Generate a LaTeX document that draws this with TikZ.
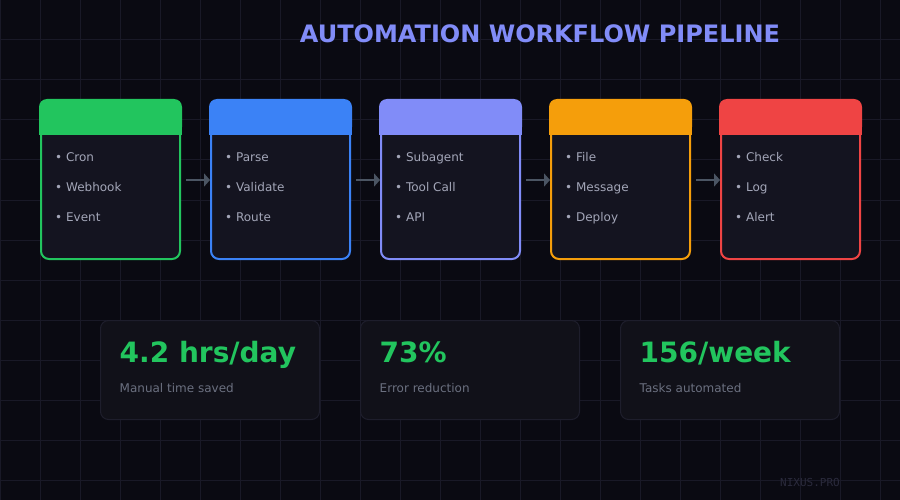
\documentclass[tikz,border=0pt]{standalone}
\usepackage{fontspec}
\setmainfont{DejaVu Sans}
\setmonofont{DejaVu Sans Mono}
\usetikzlibrary{arrows.meta,calc}
\definecolor{bg}{HTML}{0A0A12}
\definecolor{gridc}{HTML}{191927}
\definecolor{cardfill}{HTML}{141420}
\definecolor{statfill}{HTML}{111119}
\definecolor{statline}{HTML}{1E1E2C}
\definecolor{itemc}{HTML}{A3A6B8}
\definecolor{subc}{HTML}{6B7080}
\definecolor{arrowc}{HTML}{4B5563}
\definecolor{titlec}{HTML}{818CF8}
\definecolor{cgreen}{HTML}{22C55E}
\definecolor{cblue}{HTML}{3B82F6}
\definecolor{cindigo}{HTML}{818CF8}
\definecolor{camber}{HTML}{F59E0B}
\definecolor{cred}{HTML}{EF4444}
\definecolor{wmark}{HTML}{2A2A3C}
\tikzset{
  gridline/.style={draw=gridc, line width=1pt},
  cardbox/.style={draw=#1, line width=2pt, fill=cardfill, rounded corners=8pt,
    minimum width=139pt, minimum height=158pt, inner sep=0pt},
  itemtext/.style={anchor=base west, text=itemc, font=\fontsize{12}{14}\selectfont, inner sep=0pt},
  flowarrow/.style={draw=arrowc, line width=2pt, -{Triangle[length=6pt,width=13pt]}, shorten <=5pt},
  statbox/.style={draw=statline, line width=1pt, fill=statfill, rounded corners=8pt,
    minimum width=219pt, minimum height=99pt, inner sep=0pt},
  bigtext/.style={anchor=base west, text=cgreen, font=\bfseries\fontsize{28}{32}\selectfont, inner sep=0pt},
  subtext/.style={anchor=base west, text=subc, font=\fontsize{12}{14}\selectfont, inner sep=0pt},
}
\begin{document}
\begin{tikzpicture}[x=1pt,y=-1pt]
\useasboundingbox (0,0) rectangle (900,500);
\fill[bg] (0,0) rectangle (900,500);
\foreach \gx in {0,40,...,880} { \draw[gridline] (\gx,0) -- (\gx,500); }
\foreach \gy in {0,40,...,480} { \draw[gridline] (0,\gy) -- (900,\gy); }

\node[anchor=base, text=titlec, font=\bfseries\fontsize{24}{28}\selectfont, inner sep=0pt] (title) at (540,43) {AUTOMATION WORKFLOW PIPELINE};

\foreach \i/\x/\col/\a/\b/\c in {1/110.5/cgreen/Cron/Webhook/Event,
                                   2/280.5/cblue/Parse/Validate/Route,
                                   3/450.5/cindigo/Subagent/Tool Call/API,
                                   4/620.5/camber/File/Message/Deploy,
                                   5/790.5/cred/Check/Log/Alert} {
  \node[cardbox=\col] (c\i) at (\x,180) {};
  \fill[\col, rounded corners=8pt] ($(c\i.north west)+(-1,-1)$) rectangle ($(c\i.north east)+(1,35)$);
  \fill[\col] ($(c\i.north west)+(-1,15)$) rectangle ($(c\i.north east)+(1,35)$);
  \node[itemtext] (c\i a) at ($(c\i.north west)+(15,62)$) {•\ \a};
  \node[itemtext] (c\i b) at ($(c\i.north west)+(15,92)$) {•\ \b};
  \node[itemtext] (c\i c) at ($(c\i.north west)+(15,122)$) {•\ \c};
}
\foreach \i/\j in {1/2,2/3,3/4,4/5} {
  \draw[flowarrow] (c\i.east) -- (c\j.west);
}

\foreach \i/\x/\big/\sub in {1/210/4.2 hrs\slash day/Manual time saved,
                              2/470/73\%/Error reduction,
                              3/730/156\slash week/Tasks automated} {
  \node[statbox] (s\i) at (\x,370) {};
  \node[bigtext] (s\i big) at ($(s\i.north west)+(19.5,42)$) {\big};
  \node[subtext] (s\i sub) at ($(s\i.north west)+(19.5,72)$) {\sub};
}

\node[anchor=base west, text=wmark, font=\ttfamily\fontsize{11}{13}\selectfont, inner sep=0pt] (wm) at (780,486) {NIXUS.PRO};
\end{tikzpicture}
\end{document}
